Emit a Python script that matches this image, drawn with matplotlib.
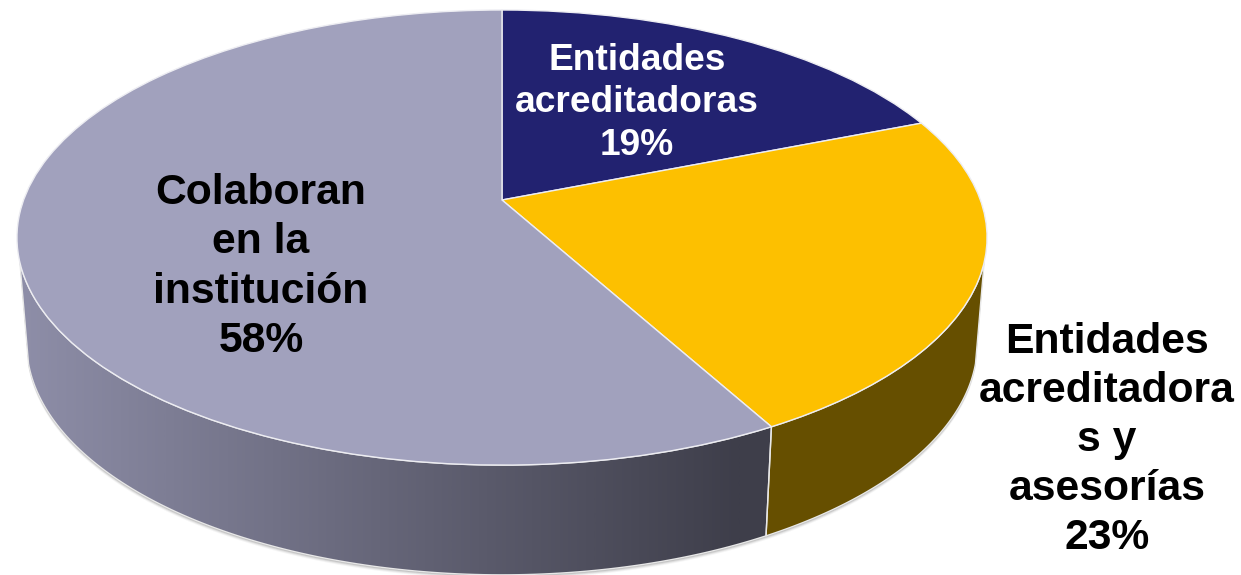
import numpy as np
import matplotlib
matplotlib.use("Agg")
import matplotlib.pyplot as plt
from matplotlib.colors import LinearSegmentedColormap
from matplotlib.patches import Polygon
from matplotlib.transforms import Transform

plt.rcParams['font.family'] = ['Liberation Sans', 'DejaVu Sans']

# Data
categories = ["Entidades\nacreditadoras", "Entidades\nacreditadora\ns y\nasesorías", "Colaboran\nen la\ninstitución"]
values = [19, 23, 58]
top_colors = ["#222270", "#FDC000", "#A1A1BD"]

W, H = 1241, 575
CX = 502; K = 0.165; A = 478.4
TOP_A, TOP_B = -188.35, 200.0
BOT_A, BOT_B = -175.0, 305.0
BOT_S = 0.98
SIL_V = -0.27


def project(u, v, a=TOP_A, b=TOP_B, s=1.0):
    w = 1 + K * v
    return CX + s * A * u / w, (a * v + b) / w


class Persp(Transform):
    input_dims = output_dims = 2
    is_separable = False
    has_inverse = False

    def transform_non_affine(self, values):
        x, y = project(values[:, 0], values[:, 1])
        return np.column_stack([x, y])


fig = plt.figure(figsize=(W / 100, H / 100), dpi=100, facecolor="white")
ax = fig.add_axes([0, 0, 1, 1])

wedges, _ = ax.pie(values, colors=top_colors, startangle=90, counterclock=False,
                   wedgeprops=dict(edgecolor="#EDEDF2", linewidth=1.0))
P = Persp()
for wd in wedges:
    wd.set_transform(P + ax.transData)
    wd.set_zorder(5)
    wd.set_clip_on(False)

# Side walls, from the value boundaries
shares = np.cumsum(values) / np.sum(values)
b2 = 2 * np.pi * shares[1]
sil = np.arccos(SIL_V)
sil_bot = np.arccos(-0.25)


def wall(t0, t1, t0b, t1b, n=120):
    th = np.linspace(t0, t1, n)
    thb = np.linspace(t1b, t0b, n)
    xt, yt = project(np.sin(th), np.cos(th))
    xb, yb = project(np.sin(thb), np.cos(thb), BOT_A, BOT_B, BOT_S)
    return np.column_stack([np.r_[xt, xb], np.r_[yt, yb]])


wall_y = wall(sil, b2, sil_bot, b2)
wall_g = wall(b2, 2 * np.pi - sil, b2, 2 * np.pi - sil_bot)

# soft shadow below the walls
for off, al in [(4, 0.06), (3, 0.10), (2, 0.15), (1, 0.22)]:
    for poly in (wall_y, wall_g):
        ax.add_patch(Polygon(poly + [0, off], closed=True, fc="#555555", ec="none", alpha=al, zorder=1))

ax.add_patch(Polygon(wall_y, closed=True, fc="#664F00", ec="#E8E8E8", lw=1.0, zorder=3))

cmap = LinearSegmentedColormap.from_list("w", ["#8E8EA8", "#3E3E4A"])
grad = np.linspace(0, 1, 512).reshape(1, -1)
im = ax.imshow(grad, cmap=cmap, extent=(20, 740, H, 0), aspect="auto", zorder=2, interpolation="bilinear")
# area right of the gradient stays at the dark end colour
ax.add_patch(Polygon(wall_g, closed=True, fc="#3E3E4A", ec="none", zorder=1.5))
clip = Polygon(wall_g, closed=True, fc="none", ec="#E8E8E8", lw=1.0, zorder=3, transform=ax.transData)
ax.add_patch(clip)
im.set_clip_path(clip)

ax.set_aspect("auto")
ax.set_xlim(0, W)
ax.set_ylim(H, 0)
ax.axis("off")

# Labels
labels = [f"{c}\n{v}%" for c, v in zip(categories, values)]
ax.text(637, 103, labels[0], color="white", fontsize=26.7, fontweight="bold",
        ha="center", va="center", linespacing=1.26, zorder=6)
ax.text(1107, 440, labels[1], color="black", fontsize=30.7, fontweight="bold",
        ha="center", va="center", linespacing=1.29, zorder=6)
ax.text(261, 267, labels[2], color="black", fontsize=30.7, fontweight="bold",
        ha="center", va="center", linespacing=1.3, zorder=6)

fig.savefig("out.png", dpi=100)
